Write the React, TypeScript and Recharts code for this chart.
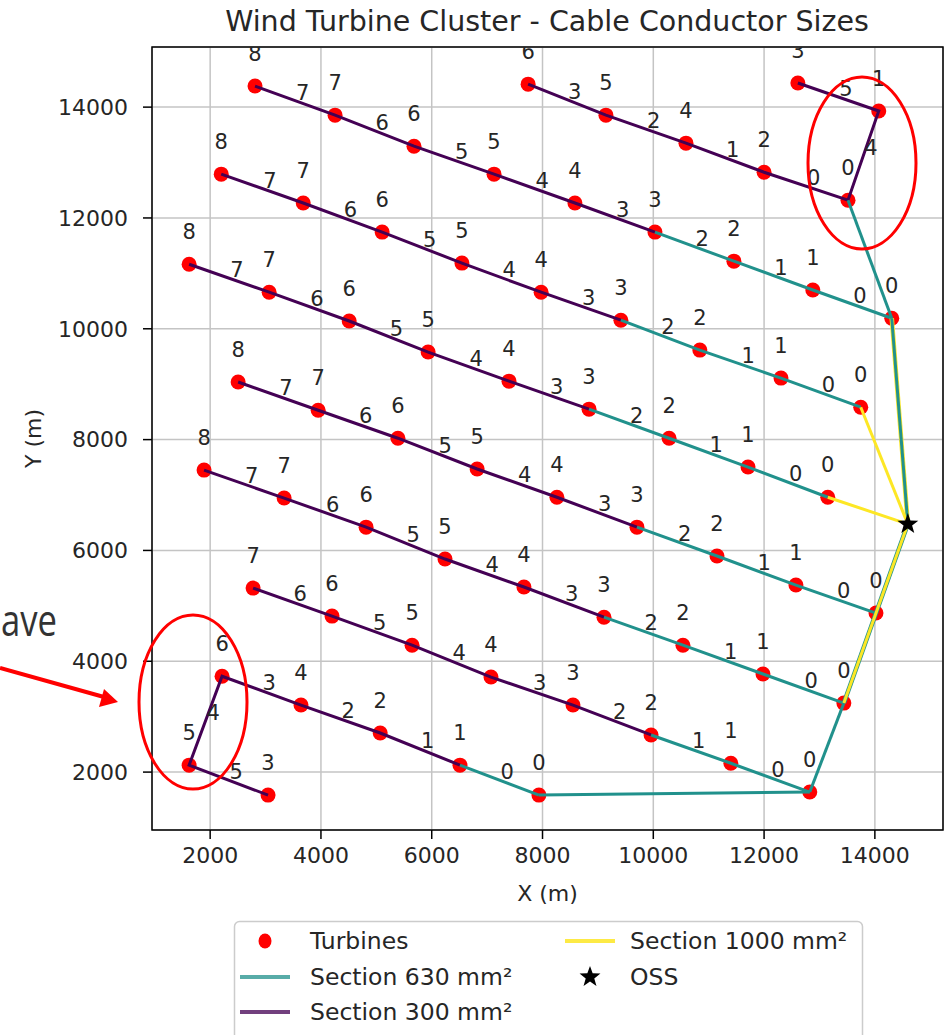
import React from 'react';
import { ScatterChart, Scatter, XAxis, YAxis, CartesianGrid, ReferenceArea } from 'recharts';

const PURPLE = '#440154'; // 300 mm²
const TEAL = '#21918c';   // 630 mm²
const YELLOW = '#fde725'; // 1000 mm²
const RED = '#ff0000';
const TXT = '#262626';
const FONT = '"DejaVu Sans", sans-serif';

const xTicks = [2000, 4000, 6000, 8000, 10000, 12000, 14000];
const yTicks = [2000, 4000, 6000, 8000, 10000, 12000, 14000];

const fullIds = [8, 7, 6, 5, 4, 3, 2, 1, 0];
const shortIds = [7, 6, 5, 4, 3, 2, 1, 0];

// strings from the top of the field down, far end first
const rowAX = [2810, 4255, 5680, 7125, 8585, 10030, 11455, 12880, 14305];
const rowAY = [14380, 13855, 13295, 12790, 12270, 11745, 11220, 10700, 10190];
const rowBX = [2200, 3680, 5105, 6545, 7975, 9415, 10840, 12305, 13745];
const rowBY = [12790, 12270, 11745, 11185, 10660, 10155, 9615, 9110, 8585];
const rowCX = [1620, 3065, 4510, 5935, 7395, 8840, 10285, 11710, 13150];
const rowCY = [11165, 10660, 10140, 9580, 9055, 8550, 8025, 7505, 6960];
const rowDX = [2505, 3950, 5390, 6820, 8260, 9705, 11150, 12575, 14020];
const rowDY = [9040, 8530, 8025, 7470, 6960, 6420, 5900, 5375, 4870];
const rowEX = [1890, 3335, 4815, 6240, 7665, 9110, 10535, 11980, 13440];
const rowEY = [7450, 6945, 6420, 5845, 5340, 4795, 4290, 3770, 3245];
const rowFX = [2775, 4200, 5645, 7070, 8550, 9960, 11400, 12825];
const rowFY = [5320, 4815, 4290, 3715, 3210, 2670, 2160, 1640];

// the two odd strings (circled)
const topLoopIds = [6, 5, 4, 2, 0, 1, 3];
const topLoopSegs = [3, 2, 1, 0, 4, 5];
const topLoopX = [7740, 9145, 10590, 12000, 13515, 14070, 12610];
const topLoopY = [14415, 13855, 13350, 12825, 12320, 13930, 14435];
const bottomLoopIds = [3, 5, 6, 4, 2, 1, 0];
const bottomLoopSegs = [5, 4, 3, 2, 1, 0];
const bottomLoopX = [3045, 1620, 2215, 3640, 5070, 6510, 7935];
const bottomLoopY = [1585, 2125, 3730, 3210, 2705, 2125, 1585];

const ossX = 14595;
const ossY = 6475;

type Pt = { x: number; y: number };
interface Str { pts: Pt[]; ids: number[]; segs: number[]; split: number }

const zip = (xs: number[], ys: number[]): Pt[] => xs.map((x, i) => ({ x, y: ys[i] }));
const mk = (xs: number[], ys: number[], ids: number[], segs: number[], split: number): Str =>
  ({ pts: zip(xs, ys), ids, segs, split });

const rowA = mk(rowAX, rowAY, fullIds, fullIds.slice(1), 5);
const rowB = mk(rowBX, rowBY, fullIds, fullIds.slice(1), 5);
const rowC = mk(rowCX, rowCY, fullIds, fullIds.slice(1), 5);
const rowD = mk(rowDX, rowDY, fullIds, fullIds.slice(1), 5);
const rowE = mk(rowEX, rowEY, fullIds, fullIds.slice(1), 5);
const rowF = mk(rowFX, rowFY, shortIds, shortIds.slice(1), 5);
const topLoop = mk(topLoopX, topLoopY, topLoopIds, topLoopSegs, 6);
const bottomLoop = mk(bottomLoopX, bottomLoopY, bottomLoopIds, bottomLoopSegs, 5);

const strings = [topLoop, rowA, rowB, rowC, rowD, rowE, rowF, bottomLoop];
const oss: Pt = { x: ossX, y: ossY };
const last = (s: Str) => s.pts[s.pts.length - 1];

// cables between strings and to the OSS, in drawing order
const links = [
  { a: last(rowA), b: oss, color: YELLOW, w: 4.5 },
  { a: topLoop.pts[4], b: last(rowA), color: TEAL, w: 3 },
  { a: last(rowA), b: oss, color: TEAL, w: 3 },
  { a: last(rowB), b: oss, color: YELLOW, w: 3 },
  { a: last(rowC), b: oss, color: YELLOW, w: 3 },
  { a: last(rowF), b: last(rowE), color: TEAL, w: 3 },
  { a: bottomLoop.pts[6], b: last(rowF), color: TEAL, w: 3 },
  { a: last(rowE), b: oss, color: TEAL, w: 4.5 },
  { a: last(rowE), b: oss, color: YELLOW, w: 3 },
];

const turbines = strings.flatMap(s => s.pts);

const labels = strings.flatMap(s => [
  ...s.pts.map((p, i) => ({ x: p.x, y: p.y, text: String(s.ids[i]), kind: 'node' })),
  ...s.segs.map((t, i) => ({
    x: (s.pts[i].x + s.pts[i + 1].x) / 2,
    y: (s.pts[i].y + s.pts[i + 1].y) / 2,
    text: String(t),
    kind: 'seg',
  })),
]);

const starPoints = (cx: number, cy: number, R: number, r: number) => {
  const out: string[] = [];
  for (let i = 0; i < 10; i++) {
    const ang = -Math.PI / 2 + (i * Math.PI) / 5;
    const rad = i % 2 === 0 ? R : r;
    out.push(`${cx + rad * Math.cos(ang)},${cy + rad * Math.sin(ang)}`);
  }
  return out.join(' ');
};

const Nothing = () => <g />;
const Dot = (p: any) => <circle cx={p.cx} cy={p.cy} r={7.5} fill={RED} />;
const Star = (p: any) => <polygon points={starPoints(p.cx, p.cy, 11, 4.5)} fill="#000" />;
const Label = (p: any) => {
  const d = p.payload;
  if (d.kind === 'node') {
    return <text x={p.cx} y={p.cy - 25} textAnchor="middle" fontSize={21} fill={TXT} fontFamily={FONT}>{d.text}</text>;
  }
  return <text x={p.cx + 1} y={p.cy - 1} textAnchor="start" fontSize={21} fill={TXT} fontFamily={FONT}>{d.text}</text>;
};

const tickStyle = { fontSize: 22, fill: TXT, fontFamily: FONT };
const LEG = 23.5;

export default function App() {
  return (
    <div style={{ position: 'absolute', left: 0, top: 0, width: 951, height: 1035, background: '#fff', overflow: 'hidden' }}>
      <ScatterChart width={951} height={915} margin={{ top: 47, right: 8, bottom: 15, left: 0 }}>
        <CartesianGrid stroke="#c4c4c4" strokeWidth={1.5} />
        <XAxis
          type="number" dataKey="x" domain={[950, 15230]} ticks={xTicks} allowDataOverflow
          height={70} axisLine={false} tickSize={9} tickMargin={8}
          tickLine={{ stroke: '#000', strokeWidth: 1.5 }} tick={tickStyle}
          label={{
            content: (props: any) => {
              const vb = props.viewBox;
              return <text x={vb.x + vb.width / 2} y={vb.y + 71} textAnchor="middle" fontSize={22} fill={TXT} fontFamily={FONT}>X (m)</text>;
            },
          }}
        />
        <YAxis
          type="number" dataKey="y" domain={[955, 15085]} ticks={yTicks} allowDataOverflow
          width={152} axisLine={false} tickSize={9} tickMargin={15}
          tickLine={{ stroke: '#000', strokeWidth: 1.5 }} tick={tickStyle}
          label={{
            content: (props: any) => {
              const vb = props.viewBox;
              const cy = vb.y + vb.height / 2;
              return <text x={41} y={cy} transform={`rotate(-90, 41, ${cy})`} textAnchor="middle" fontSize={22} fill={TXT} fontFamily={FONT}>Y (m)</text>;
            },
          }}
        />
        <ReferenceArea x1={950} x2={15230} y1={955} y2={15085} fill="none" stroke="#000" strokeWidth={1.5} />
        <Scatter data={turbines} shape={Dot} isAnimationActive={false} />
        {strings.map((s, i) => (
          <Scatter key={`p${i}`} data={s.pts.slice(0, s.split + 1)} shape={Nothing}
            line={{ stroke: PURPLE, strokeWidth: 3 }} isAnimationActive={false} />
        ))}
        {strings.filter(s => s.split < s.pts.length - 1).map((s, i) => (
          <Scatter key={`t${i}`} data={s.pts.slice(s.split)} shape={Nothing}
            line={{ stroke: TEAL, strokeWidth: 3 }} isAnimationActive={false} />
        ))}
        {links.map((l, i) => (
          <Scatter key={`l${i}`} data={[l.a, l.b]} shape={Nothing}
            line={{ stroke: l.color, strokeWidth: l.w }} isAnimationActive={false} />
        ))}
        <Scatter data={[oss]} shape={Star} isAnimationActive={false} />
        <Scatter data={labels} shape={Label} isAnimationActive={false} />
      </ScatterChart>

      <svg width={951} height={1035} style={{ position: 'absolute', left: 0, top: 0, pointerEvents: 'none' }}>
        <text x={547} y={31} textAnchor="middle" fontSize={28.5} fill={TXT} fontFamily={FONT}>
          Wind Turbine Cluster - Cable Conductor Sizes
        </text>

        {/* legend */}
        <rect x={234.5} y={921.5} width={628} height={130} rx={5} fill="#fff" stroke="#cccccc" strokeWidth={1.5} />
        <ellipse cx={265} cy={941} rx={6.5} ry={7.5} fill={RED} />
        <text x={310} y={949} fontSize={LEG} fill={TXT} fontFamily={FONT}>Turbines</text>
        <line x1={240} x2={290} y1={977} y2={977} stroke={TEAL} strokeWidth={4} opacity={0.75} />
        <text x={310} y={985} fontSize={LEG} fill={TXT} fontFamily={FONT}>Section 630 mm²</text>
        <line x1={240} x2={290} y1={1012} y2={1012} stroke={PURPLE} strokeWidth={4} opacity={0.75} />
        <text x={310} y={1020} fontSize={LEG} fill={TXT} fontFamily={FONT}>Section 300 mm²</text>
        <line x1={565} x2={615} y1={941} y2={941} stroke={YELLOW} strokeWidth={4} opacity={0.85} />
        <text x={630} y={949} fontSize={LEG} fill={TXT} fontFamily={FONT}>Section 1000 mm²</text>
        <polygon points={starPoints(590, 977, 11, 4.5)} fill="#000" />
        <text x={630} y={985} fontSize={LEG} fill={TXT} fontFamily={FONT}>OSS</text>

        {/* slide annotations */}
        <text x={1} y={636} fontSize={44} textLength={56} lengthAdjust="spacingAndGlyphs" fill="#333" fontFamily='"Open Sans", sans-serif'>ave</text>
        <line x1={0} y1={668} x2={104} y2={697} stroke={RED} strokeWidth={4} />
        <polygon points="118,702 104,689 99,707" fill={RED} />
        <ellipse cx={193} cy={702} rx={54} ry={87} fill="none" stroke={RED} strokeWidth={3} />
        <ellipse cx={862} cy={163} rx={54} ry={86} fill="none" stroke={RED} strokeWidth={3} />
      </svg>
    </div>
  );
}
